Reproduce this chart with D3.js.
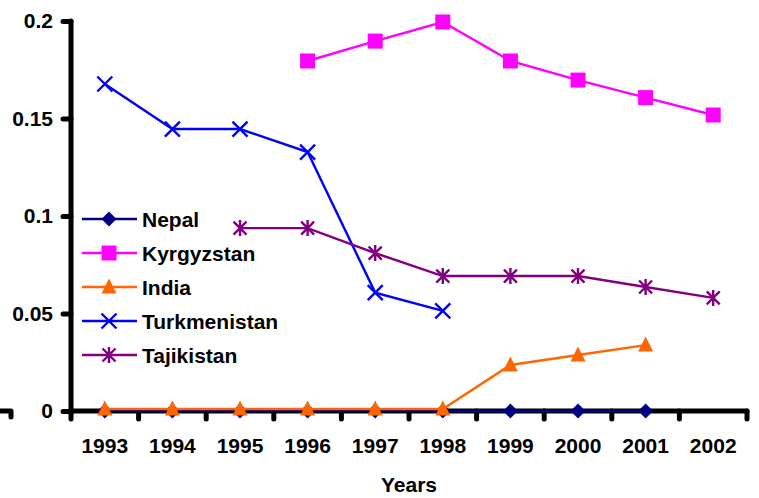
<!DOCTYPE html>
<html><head><meta charset="utf-8">
<script src="https://cdn.jsdelivr.net/npm/d3@7"></script>
<style>body{margin:0;background:#fff}text{font-family:"Liberation Sans",Arial,sans-serif;font-weight:bold}</style>
</head><body><svg id="c" width="759" height="498"></svg>
<script>
const years = ["1993","1994","1995","1996","1997","1998","1999","2000","2001","2002"];
const yTicks = [0, 0.05, 0.1, 0.15, 0.2];
const yTickLabels = ["0", "0.05", "0.1", "0.15", "0.2"];
const nepal = [0, 0, 0, 0, 0, 0, 0, 0, 0, null];
const kyrgyzstan = [null, null, null, 0.1795, 0.1897, 0.1995, 0.1795, 0.1697, 0.1607, 0.1518];
const india = [0.001, 0.001, 0.001, 0.001, 0.001, 0.001, 0.0236, 0.0287, 0.0338, null];
const turkmenistan = [0.1677, 0.1446, 0.1446, 0.1328, 0.0607, 0.0513, null, null, null, null];
const tajikistan = [null, null, 0.0938, 0.0938, 0.081, 0.0692, 0.0692, 0.0692, 0.0636, 0.058];
const seriesNames = ["Nepal", "Kyrgyzstan", "India", "Turkmenistan", "Tajikistan"];
const seriesColors = ["#000080", "#FF00FF", "#FF6600", "#0000FF", "#800080"];
const seriesMarkers = ["diamond", "square", "triangle", "x", "star"];
const xTitle = "Years";

const FS = 21;
const series = [nepal, kyrgyzstan, india, turkmenistan, tajikistan].map((v, i) => ({
  name: seriesNames[i], color: seriesColors[i], marker: seriesMarkers[i], values: v
}));

const svg = d3.select("#c");
const x = d3.scaleBand().domain(years).range([71, 747]).paddingInner(0).paddingOuter(0);
const y = d3.scaleLinear().domain([0, 0.2]).range([411, 21]);

function drawMarker(g, type, color) {
  if (type === "diamond") {
    g.append("path").attr("d", "M0,-7.5L7.5,0L0,7.5L-7.5,0Z").attr("fill", color);
  } else if (type === "square") {
    g.append("rect").attr("x", -7.5).attr("y", -7.5).attr("width", 15).attr("height", 15).attr("fill", color);
  } else if (type === "triangle") {
    g.append("path").attr("d", "M0,-8.5L7.5,6.5L-7.5,6.5Z").attr("fill", color);
  } else if (type === "x") {
    g.append("path").attr("d", "M-7.5,-7.5L7.5,7.5M-7.5,7.5L7.5,-7.5").attr("stroke", color).attr("stroke-width", 2.4).attr("fill", "none");
  } else if (type === "star") {
    g.append("path").attr("d", "M-6.5,-6.5L6.5,6.5M-6.5,6.5L6.5,-6.5M0,-8L0,8").attr("stroke", color).attr("stroke-width", 2.4).attr("fill", "none");
  }
}

function drawSeries(s) {
  const pts = years.map((yr, i) => ({yr, v: s.values[i]}));
  const line = d3.line().defined(d => d.v !== null)
    .x(d => x(d.yr) + x.bandwidth() / 2).y(d => y(d.v));
  svg.append("path").datum(pts).attr("d", line).attr("fill", "none")
    .attr("stroke", s.color).attr("stroke-width", 2.4);
  pts.filter(d => d.v !== null).forEach(d => {
    const g = svg.append("g").attr("transform", `translate(${x(d.yr) + x.bandwidth() / 2},${y(d.v)})`);
    drawMarker(g, s.marker, s.color);
  });
}

// y axis
const yAxis = d3.axisLeft(y).tickValues(yTicks).tickFormat((d, i) => yTickLabels[i]).tickSize(8).tickPadding(10);
const yg = svg.append("g").attr("transform", "translate(71,0)").call(yAxis);
yg.select(".domain").remove();
yg.selectAll(".tick line").attr("stroke", "#000").attr("stroke-width", 5).attr("stroke-linecap", "round");
yg.selectAll(".tick text").attr("font-size", FS).attr("fill", "#000").attr("font-weight", "bold")
  .attr("font-family", "Liberation Sans, Arial, sans-serif");
svg.append("line").attr("x1", 71).attr("x2", 71).attr("y1", y(0.2)).attr("y2", y(0) + 2)
  .attr("stroke", "#000").attr("stroke-width", 5).attr("stroke-linecap", "round");

// x axis
const xAxis = d3.axisBottom(x).tickSize(0).tickPadding(27);
const xg = svg.append("g").attr("transform", `translate(0,${y(0)})`).call(xAxis);
xg.select(".domain").remove();
xg.selectAll(".tick text").attr("font-size", FS).attr("fill", "#000").attr("font-weight", "bold")
  .attr("font-family", "Liberation Sans, Arial, sans-serif");
svg.append("line").attr("x1", 71).attr("x2", 747).attr("y1", y(0)).attr("y2", y(0))
  .attr("stroke", "#000").attr("stroke-width", 5).attr("stroke-linecap", "round");
const bounds = years.map(yr => x(yr)).concat([x(years[years.length - 1]) + x.step()]);
svg.selectAll(".xb").data(bounds).enter().append("line")
  .attr("x1", d => d).attr("x2", d => d).attr("y1", y(0)).attr("y2", y(0) + 8)
  .attr("stroke", "#000").attr("stroke-width", 5).attr("stroke-linecap", "round");
// small stub at far left
svg.append("path").attr("d", `M0,${y(0)}L11,${y(0)}L11,${y(0) + 6}`).attr("fill", "none")
  .attr("stroke", "#000").attr("stroke-width", 5).attr("stroke-linecap", "round").attr("stroke-linejoin", "round");

series.forEach(drawSeries);

// x title
svg.append("text").attr("x", 409).attr("y", 492).attr("text-anchor", "middle")
  .attr("font-size", FS).text(xTitle);

// legend
const lg = svg.append("g");
series.forEach((s, i) => {
  const yy = 219 + i * 34;
  lg.append("line").attr("x1", 82).attr("x2", 137).attr("y1", yy).attr("y2", yy)
    .attr("stroke", s.color).attr("stroke-width", 2.4);
  drawMarker(lg.append("g").attr("transform", `translate(109,${yy})`), s.marker, s.color);
  lg.append("text").attr("x", 142).attr("y", yy + 7.5).attr("font-size", FS).text(s.name);
});
</script></body></html>
